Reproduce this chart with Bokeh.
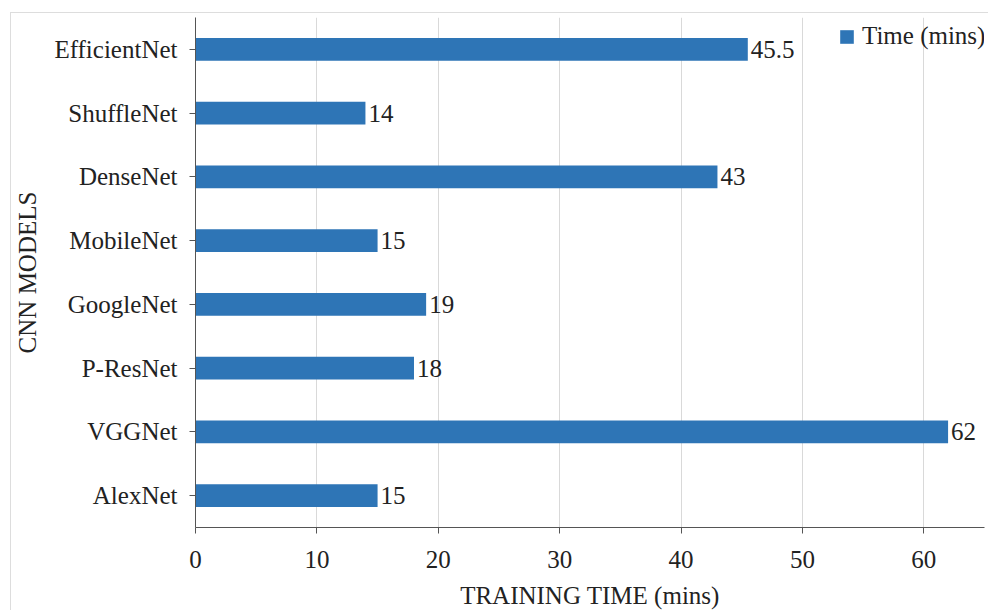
from bokeh.plotting import figure
from bokeh.models import ColumnDataSource, FactorRange, Range1d, Legend, LegendItem
from bokeh.embed import file_html
from bokeh.resources import INLINE
from bokeh.core.properties import value

models = ["AlexNet", "VGGNet", "P-ResNet", "GoogleNet", "MobileNet",
          "DenseNet", "ShuffleNet", "EfficientNet"]
times = [15, 62, 18, 19, 15, 43, 14, 45.5]
time_labels = ["15", "62", "18", "19", "15", "43", "14", "45.5"]
x_ticks = [0, 10, 20, 30, 40, 50, 60]

FONT = "Liberation Serif"
FS = "25px"
BLUE = "#2e75b6"

src = ColumnDataSource(dict(model=models, t=times, lab=time_labels))

p = figure(width=978, height=598, y_range=FactorRange(*models, range_padding=0),
           x_range=Range1d(0, 65), output_backend="svg", toolbar_location=None,
           min_border_left=184, min_border_right=5, min_border_top=4,
           min_border_bottom=83)
p.styles = {"margin-left": "10px", "margin-top": "12px",
            "border-left": "1px solid #dddddd", "border-top": "1px solid #dddddd"}
p.outline_line_color = None

r = p.hbar(y="model", right="t", left=0, height=0.36, source=src,
           fill_color=BLUE, line_color=None)

p.text(x="t", y="model", text="lab", source=src, x_offset=3,
       text_baseline="middle", text_align="left",
       text_font=value(FONT), text_font_size=FS, text_color="#222222")

p.xaxis.ticker = x_ticks
p.xgrid.grid_line_color = "#d9d9d9"
p.ygrid.grid_line_color = None

for ax in (p.xaxis, p.yaxis):
    ax.major_label_text_font = FONT
    ax.major_label_text_font_size = FS
    ax.major_label_text_color = "#222222"
    ax.axis_label_text_font = FONT
    ax.axis_label_text_font_size = FS
    ax.axis_label_text_font_style = "normal"
    ax.axis_label_text_color = "#222222"
    ax.axis_line_color = "#555555"
    ax.major_tick_line_color = "#555555"
    ax.minor_tick_line_color = None
    ax.major_tick_in = 0
    ax.major_tick_out = 6

p.xaxis.axis_label = "TRAINING TIME (mins)"
p.yaxis.axis_label = "CNN MODELS"
p.xaxis.major_label_standoff = 17
p.yaxis.major_label_standoff = 12
p.xaxis.axis_label_standoff = 11
p.yaxis.axis_label_standoff = 10

legend = Legend(items=[LegendItem(label="Time (mins)", renderers=[r])],
                location=(643, 477), padding=0, margin=0,
                border_line_color=None, background_fill_alpha=0,
                glyph_width=17, glyph_height=17, label_standoff=7,
                label_text_font=FONT, label_text_font_size=FS,
                label_text_color="#222222")
p.add_layout(legend)

open("out.html", "w").write(file_html(p, INLINE))
